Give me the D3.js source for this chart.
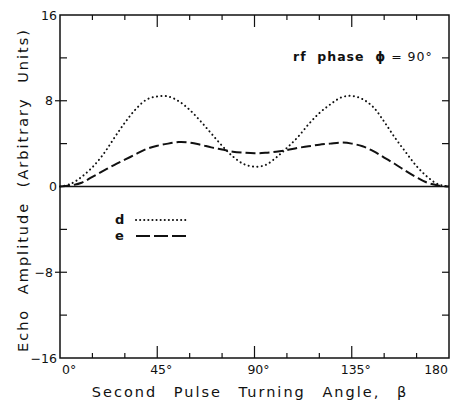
<!DOCTYPE html>
<html>
<head>
<meta charset="utf-8">
<script src="https://cdn.jsdelivr.net/npm/d3@7"></script>
<style>
  body { margin: 0; background: #fff; }
  svg text { font-family: "DejaVu Sans", sans-serif; fill: #111; }
</style>
</head>
<body>
<div id="container"></div>
<script>
// turning angle (degrees)
var angles = [0, 5, 10, 15, 20, 25, 30, 35, 40, 45, 50, 55, 60, 65, 70, 75, 80, 85, 90,
    95, 100, 105, 110, 115, 120, 125, 130, 135, 140, 145, 150, 155, 160, 165, 170, 175, 180];

// curve d (dotted)
var seriesD = [0, 0.25, 0.9, 1.8, 3.0, 4.5, 5.95, 7.2, 8.1, 8.4, 8.4, 7.95, 7.15, 6.1, 4.95, 3.8, 2.8, 2.1, 1.85,
    2.0, 2.7, 3.6, 4.6, 5.8, 6.85, 7.65, 8.3, 8.45, 8.15, 7.4, 6.05, 4.55, 3.2, 1.9, 0.9, 0.2, 0];

// curve e (dashed)
var seriesE = [0, 0.1, 0.35, 0.9, 1.45, 2.0, 2.5, 3.0, 3.5, 3.8, 4.0, 4.15, 4.1, 3.9, 3.65, 3.45, 3.25, 3.15, 3.1,
    3.15, 3.25, 3.4, 3.6, 3.75, 3.9, 4.0, 4.1, 4.0, 3.75, 3.3, 2.7, 2.1, 1.45, 0.85, 0.35, 0.1, 0];

var xTickLabels = [[0, "0°"], [45, "45°"], [90, "90°"], [135, "135°"], [180, "180"]];
var yTickLabels = [16, 8, 0, -8, -16];

var W = 457, H = 402;
var margin = { top: 15, right: 8, bottom: 44, left: 60 };

var svg = d3.select("#container").append("svg")
    .attr("width", W)
    .attr("height", H);

var x = d3.scaleLinear().domain([0, 180]).range([margin.left, W - margin.right]);
var y = d3.scaleLinear().domain([-16, 16]).range([H - margin.bottom, margin.top]);

// frame
svg.append("rect")
    .attr("x", x(0)).attr("y", y(16))
    .attr("width", x(180) - x(0)).attr("height", y(-16) - y(16))
    .attr("fill", "none").attr("stroke", "#111").attr("stroke-width", 1.5);

// zero line
svg.append("line")
    .attr("x1", x(0)).attr("x2", x(180))
    .attr("y1", y(0)).attr("y2", y(0))
    .attr("stroke", "#111").attr("stroke-width", 1.6);

// inward ticks, x
var xt = d3.range(15, 180, 15);
xt.forEach(function (a)
{
    var len = (a % 45 === 0) ? 12 : 5;
    svg.append("line").attr("x1", x(a)).attr("x2", x(a))
        .attr("y1", y(-16)).attr("y2", y(-16) - len)
        .attr("stroke", "#111").attr("stroke-width", 1.2);
    svg.append("line").attr("x1", x(a)).attr("x2", x(a))
        .attr("y1", y(16)).attr("y2", y(16) + len)
        .attr("stroke", "#111").attr("stroke-width", 1.2);
});

// y ticks
[-12, -8, -4, 4, 8, 12].forEach(function (v)
{
    var outer = (Math.abs(v) === 8) ? 5 : 0;
    svg.append("line").attr("x1", x(0) - outer).attr("x2", x(0) + 7)
        .attr("y1", y(v)).attr("y2", y(v))
        .attr("stroke", "#111").attr("stroke-width", 1.2);
    svg.append("line").attr("x1", x(180)).attr("x2", x(180) - 7)
        .attr("y1", y(v)).attr("y2", y(v))
        .attr("stroke", "#111").attr("stroke-width", 1.2);
});

// tick labels
yTickLabels.forEach(function (v)
{
    svg.append("text")
        .attr("x", Math.abs(v) === 8 ? 53 : 57)
        .attr("y", y(v) + 4.5)
        .attr("text-anchor", "end")
        .style("font-size", "12.5px")
        .text(v < 0 ? "\u2212" + Math.abs(v) : v);
});

xTickLabels.forEach(function (d)
{
    var t = svg.append("text")
        .attr("y", 374)
        .style("font-size", "12.5px")
        .text(d[1]);
    if (d[0] === 0) t.attr("x", x(0) + 2).attr("text-anchor", "start");
    else if (d[0] === 180) t.attr("x", x(180) - 1).attr("text-anchor", "end");
    else t.attr("x", x(d[0]) + 4).attr("text-anchor", "middle");
});

// curves
var line = d3.line()
    .x(function (d) { return x(d[0]); })
    .y(function (d) { return y(d[1]); })
    .curve(d3.curveCatmullRom.alpha(0.5));

svg.append("path")
    .datum(angles.map(function (a, i) { return [a, seriesD[i]]; }))
    .attr("d", line)
    .attr("fill", "none").attr("stroke", "#111")
    .attr("stroke-width", 2).attr("stroke-linecap", "round")
    .attr("stroke-dasharray", "0.1,4.3");

svg.append("path")
    .datum(angles.map(function (a, i) { return [a, seriesE[i]]; }))
    .attr("d", line)
    .attr("fill", "none").attr("stroke", "#111")
    .attr("stroke-width", 2)
    .attr("stroke-dasharray", "10,4");

// legend
svg.append("text").attr("x", 115).attr("y", 224).style("font-size", "13px").style("font-weight", "bold").text("d");
svg.append("line").attr("x1", 136).attr("x2", 188).attr("y1", 220).attr("y2", 220)
    .attr("stroke", "#111").attr("stroke-width", 2).attr("stroke-linecap", "round")
    .attr("stroke-dasharray", "0.1,4");
svg.append("text").attr("x", 115).attr("y", 240).style("font-size", "13px").style("font-weight", "bold").text("e");
svg.append("line").attr("x1", 136).attr("x2", 188).attr("y1", 236).attr("y2", 236)
    .attr("stroke", "#111").attr("stroke-width", 2)
    .attr("stroke-dasharray", "14,4");

// annotation
var ann = svg.append("text")
    .attr("x", 293).attr("y", 61)
    .style("font-size", "12.5px")
    .style("letter-spacing", "1px")
    .attr("xml:space", "preserve");
ann.append("tspan").style("font-weight", "bold").text("rf  phase  \u03d5");
ann.append("tspan").text(" = 90°");

// axis titles
svg.append("text")
    .attr("x", 250).attr("y", 397)
    .attr("text-anchor", "middle")
    .style("font-size", "14.5px")
    .style("letter-spacing", "2px")
    .style("word-spacing", "10px")
    .text("Second Pulse Turning Angle, \u03b2");

svg.append("text")
    .attr("transform", "translate(28,190) rotate(-90)")
    .attr("text-anchor", "middle")
    .style("font-size", "14.5px")
    .style("letter-spacing", "2px")
    .style("word-spacing", "8px")
    .text("Echo Amplitude (Arbitrary Units)");
</script>
</body>
</html>
